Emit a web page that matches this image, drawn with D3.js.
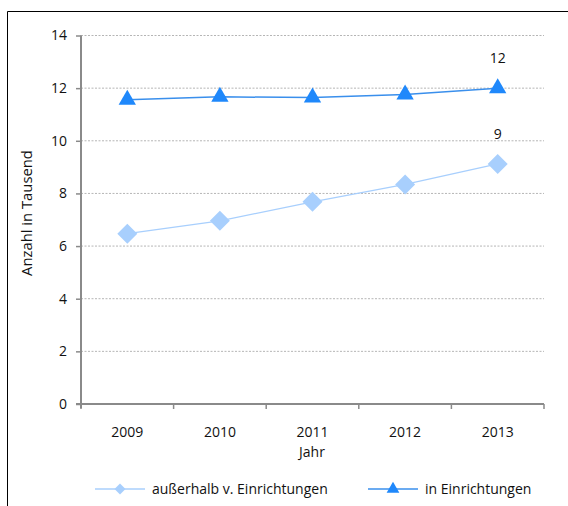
<!DOCTYPE html>
<html>
<head>
<meta charset="utf-8">
<script src="https://cdn.jsdelivr.net/npm/d3@7"></script>
<style>
  body { margin: 0; background: #fff; }
  text { font-family: "Open Sans", "Noto Sans", sans-serif; fill: #111; }
</style>
</head>
<body>
<svg id="chart" width="568" height="506"></svg>
<script>
var years = ["2009", "2010", "2011", "2012", "2013"];
var ausserhalb = [6.47, 6.96, 7.68, 8.34, 9.12];
var inEinrichtungen = [11.56, 11.67, 11.64, 11.76, 12.0];
var yTicks = [0, 2, 4, 6, 8, 10, 12, 14];
var endLabels = ["9", "12"];

var svg = d3.select("#chart");

// frame (only left and top edges are visible in the crop)
svg.append("path")
  .attr("d", "M7.5,506 V11.5 H568")
  .attr("fill", "none")
  .attr("stroke", "#000")
  .attr("stroke-width", 1);

var x = d3.scaleBand().domain(years).range([81, 544]);
var y = d3.scaleLinear().domain([0, 14]).range([404, 35.5]);

// gridlines
svg.append("g")
  .selectAll("line")
  .data(yTicks.filter(function (d) { return d > 0; }))
  .enter()
  .append("line")
  .attr("x1", 81).attr("x2", 544)
  .attr("y1", function (d) { return y(d); })
  .attr("y2", function (d) { return y(d); })
  .attr("stroke", "#b5b5b5")
  .attr("stroke-dasharray", "2,1.5")
  .attr("stroke-width", 1);

// y axis
var yAxis = svg.append("g")
  .attr("transform", "translate(81,0)")
  .call(d3.axisLeft(y).tickValues(yTicks).tickSize(5).tickPadding(9));
yAxis.select(".domain").attr("stroke", "#8a8a8a").attr("stroke-width", 2)
  .attr("d", "M0," + y(14) + "V" + (y(0) + 4));
yAxis.selectAll(".tick line").attr("stroke", "#8a8a8a").attr("stroke-width", 1.5);
yAxis.selectAll(".tick text").style("font-size", "14px").attr("fill", "#111");

// x axis with ticks at band edges
var xAxis = svg.append("g").attr("transform", "translate(0,404)");
xAxis.append("line")
  .attr("x1", 76).attr("x2", 544)
  .attr("stroke", "#8a8a8a").attr("stroke-width", 2);
var edges = years.map(function (d) { return x(d); }).concat([544]);
xAxis.selectAll("line.edge")
  .data(edges)
  .enter()
  .append("line")
  .attr("class", "edge")
  .attr("x1", function (d) { return d; })
  .attr("x2", function (d) { return d; })
  .attr("y1", 0).attr("y2", 5)
  .attr("stroke", "#8a8a8a").attr("stroke-width", 1.5);
xAxis.selectAll("text")
  .data(years)
  .enter()
  .append("text")
  .attr("x", function (d) { return x(d) + x.bandwidth() / 2; })
  .attr("y", 33)
  .attr("text-anchor", "middle")
  .style("font-size", "14px")
  .text(function (d) { return d; });

// axis titles
svg.append("text")
  .attr("x", 312).attr("y", 457)
  .attr("text-anchor", "middle")
  .style("font-size", "14px")
  .text("Jahr");
svg.append("text")
  .attr("transform", "translate(32,213) rotate(-90)")
  .attr("text-anchor", "middle")
  .style("font-size", "14.8px")
  .text("Anzahl in Tausend");

var cx = function (d, i) { return x(years[i]) + x.bandwidth() / 2; };
var line = d3.line()
  .x(function (d, i) { return x(years[i]) + x.bandwidth() / 2; })
  .y(function (d) { return y(d); });

var lightBlue = "#a8cffd";
var darkBlue = "#1f88fb";

// series lines
svg.append("path")
  .datum(ausserhalb)
  .attr("d", line)
  .attr("fill", "none")
  .attr("stroke", lightBlue)
  .attr("stroke-width", 1.3);
svg.append("path")
  .datum(inEinrichtungen)
  .attr("d", line)
  .attr("fill", "none")
  .attr("stroke", "#3a8fec")
  .attr("stroke-width", 1.5);

var diamond = d3.symbol().type(d3.symbolSquare).size(200);
var triangle = d3.symbol().type(d3.symbolTriangle).size(130);

svg.append("g")
  .selectAll("path")
  .data(ausserhalb)
  .enter()
  .append("path")
  .attr("d", diamond)
  .attr("transform", function (d, i) { return "translate(" + cx(d, i) + "," + y(d) + ") rotate(45)"; })
  .attr("fill", lightBlue);

svg.append("g")
  .selectAll("path")
  .data(inEinrichtungen)
  .enter()
  .append("path")
  .attr("d", triangle)
  .attr("transform", function (d, i) { return "translate(" + cx(d, i) + "," + y(d) + ")"; })
  .attr("fill", darkBlue);

// value labels on last point
var last = years.length - 1;
[ausserhalb, inEinrichtungen].forEach(function (s, k) {
  svg.append("text")
    .attr("x", x(years[last]) + x.bandwidth() / 2)
    .attr("y", y(s[last]) - 25)
    .attr("text-anchor", "middle")
    .style("font-size", "14px")
    .text(endLabels[k]);
});

// legend
var legend = svg.append("g").attr("transform", "translate(0,489)");
var items = [
  { name: "außerhalb v. Einrichtungen", x0: 95, color: lightBlue, lineColor: lightBlue, sym: d3.symbol().type(d3.symbolSquare).size(60), rot: 45 },
  { name: "in Einrichtungen", x0: 368, color: darkBlue, lineColor: "#3a8fec", sym: d3.symbol().type(d3.symbolTriangle).size(70), rot: 0 }
];
items.forEach(function (it) {
  legend.append("line")
    .attr("x1", it.x0).attr("x2", it.x0 + 50)
    .attr("stroke", it.lineColor).attr("stroke-width", 1.3);
  legend.append("path")
    .attr("d", it.sym)
    .attr("transform", "translate(" + (it.x0 + 25) + ",0) rotate(" + it.rot + ")")
    .attr("fill", it.color);
  legend.append("text")
    .attr("x", it.x0 + 57)
    .attr("y", 5)
    .style("font-size", "14px")
    .text(it.name);
});
</script>
</body>
</html>
